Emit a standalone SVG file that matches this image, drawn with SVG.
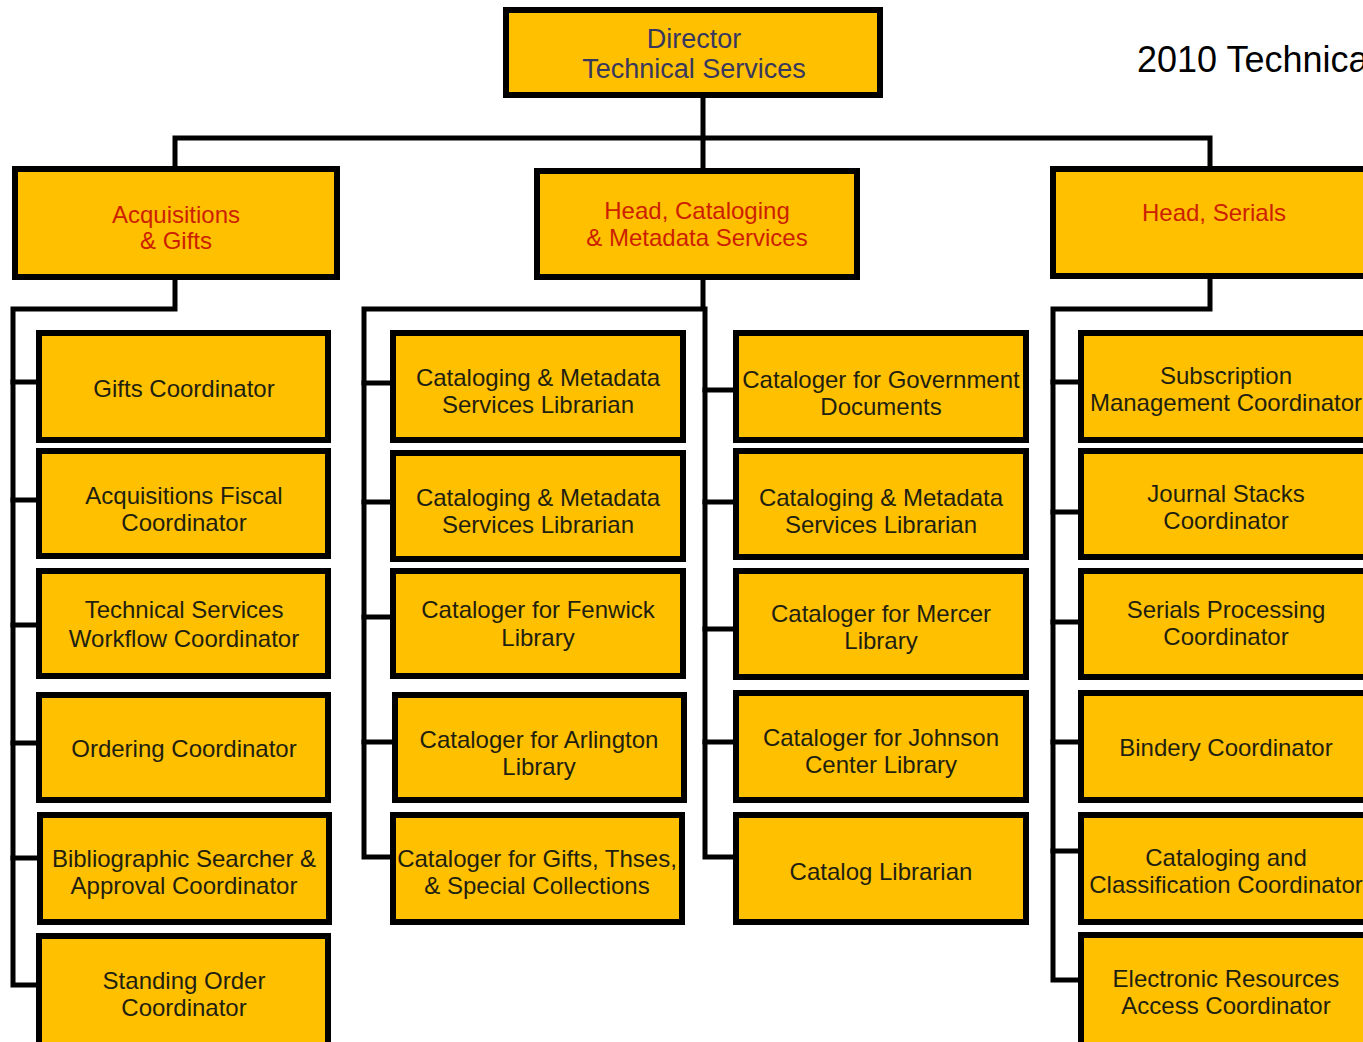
<svg xmlns="http://www.w3.org/2000/svg" width="1363" height="1042" viewBox="0 0 1363 1042">
  <style>
    .box { fill: #FFC000; stroke: #000; stroke-width: 6; }
    .lbl { font-family: "Liberation Sans", Arial, sans-serif; font-size: 24px; fill: #1f1f10; text-anchor: middle; }
    .head { fill: #cc1f00; }
    .top { font-size: 27px; fill: #38385e; }
    .title { font-family: "Liberation Sans", Arial, sans-serif; font-size: 36px; fill: #000; }
    .conn { fill: none; stroke: #000; stroke-width: 5; stroke-linejoin: miter; stroke-linecap: square; }
  </style>
  <rect width="1363" height="1042" fill="#fff"/>

  <text class="title" x="1137" y="72">2010 Technical</text>

  <!-- reporting lines -->
  <g id="connectors" class="conn">
    <path d="M703 98 V138 M175 166 V138 H1210 V166 M703 138 V168"/>
    <!-- Acquisitions branch -->
    <path d="M175 280 V309 H13 V985 H38"/>
    <path d="M13 382 H38 M13 500 H38 M13 625 H38 M13 743 H38 M13 858 H38"/>
    <!-- Cataloging branch -->
    <path d="M703 280 V309 H364 V857 H390"/>
    <path d="M364 383 H390 M364 502 H390 M364 617 H390 M364 742 H390"/>
    <path d="M705 309 V857 H735"/>
    <path d="M705 390 H735 M705 502 H735 M705 629 H735 M705 742 H735"/>
    <!-- Serials branch -->
    <path d="M1210 279 V309 H1053 V980 H1080"/>
    <path d="M1053 382 H1080 M1053 512 H1080 M1053 622 H1080 M1053 742 H1080 M1053 851 H1080"/>
  </g>

  <g id="director">
    <rect class="box" x="506" y="10" width="374" height="85"/>
    <text class="lbl top" x="694" y="48">Director</text>
    <text class="lbl top" x="694" y="78">Technical Services</text>
  </g>

  <g id="acquisitions">
    <rect class="box" x="15" y="169" width="322" height="108"/>
    <text class="lbl head" x="176" y="223">Acquisitions</text>
    <text class="lbl head" x="176" y="249">&amp; Gifts</text>
  </g>
  <g id="head-cataloging">
    <rect class="box" x="537" y="171" width="320" height="106"/>
    <text class="lbl head" x="697" y="219">Head, Cataloging</text>
    <text class="lbl head" x="697" y="246">&amp; Metadata Services</text>
  </g>
  <g id="head-serials">
    <rect class="box" x="1053" y="169" width="322" height="107"/>
    <text class="lbl head" x="1214" y="221">Head, Serials</text>
  </g>

  <!-- Acquisitions staff -->
  <g id="gifts-coordinator">
    <rect class="box" x="39" y="333" width="289" height="107"/>
    <text class="lbl" x="184" y="397">Gifts Coordinator</text>
  </g>
  <g id="acq-fiscal">
    <rect class="box" x="39" y="451" width="289" height="105"/>
    <text class="lbl" x="184" y="504">Acquisitions Fiscal</text>
    <text class="lbl" x="184" y="531">Coordinator</text>
  </g>
  <g id="ts-workflow">
    <rect class="box" x="39" y="571" width="289" height="105"/>
    <text class="lbl" x="184" y="618">Technical Services</text>
    <text class="lbl" x="184" y="647">Workflow Coordinator</text>
  </g>
  <g id="ordering">
    <rect class="box" x="39" y="695" width="289" height="105"/>
    <text class="lbl" x="184" y="757">Ordering Coordinator</text>
  </g>
  <g id="bib-searcher">
    <rect class="box" x="40" y="815" width="289" height="107"/>
    <text class="lbl" x="184" y="867">Bibliographic Searcher &amp;</text>
    <text class="lbl" x="184" y="894">Approval Coordinator</text>
  </g>
  <g id="standing-order">
    <rect class="box" x="39" y="936" width="289" height="120"/>
    <text class="lbl" x="184" y="989">Standing Order</text>
    <text class="lbl" x="184" y="1016">Coordinator</text>
  </g>

  <!-- Cataloging staff, first column -->
  <g id="cms-librarian-1">
    <rect class="box" x="393" y="333" width="290" height="107"/>
    <text class="lbl" x="538" y="386">Cataloging &amp; Metadata</text>
    <text class="lbl" x="538" y="413">Services Librarian</text>
  </g>
  <g id="cms-librarian-2">
    <rect class="box" x="393" y="453" width="290" height="106"/>
    <text class="lbl" x="538" y="506">Cataloging &amp; Metadata</text>
    <text class="lbl" x="538" y="533">Services Librarian</text>
  </g>
  <g id="fenwick">
    <rect class="box" x="393" y="571" width="290" height="105"/>
    <text class="lbl" x="538" y="618">Cataloger for Fenwick</text>
    <text class="lbl" x="538" y="646">Library</text>
  </g>
  <g id="arlington">
    <rect class="box" x="395" y="695" width="289" height="105"/>
    <text class="lbl" x="539" y="748">Cataloger for Arlington</text>
    <text class="lbl" x="539" y="775">Library</text>
  </g>
  <g id="gifts-theses">
    <rect class="box" x="393" y="815" width="289" height="107"/>
    <text class="lbl" x="537" y="867">Cataloger for Gifts, Thses,</text>
    <text class="lbl" x="537" y="894">&amp; Special Collections</text>
  </g>

  <!-- Cataloging staff, second column -->
  <g id="gov-docs">
    <rect class="box" x="736" y="333" width="290" height="107"/>
    <text class="lbl" x="881" y="388">Cataloger for Government</text>
    <text class="lbl" x="881" y="415">Documents</text>
  </g>
  <g id="cms-librarian-3">
    <rect class="box" x="736" y="451" width="290" height="106"/>
    <text class="lbl" x="881" y="506">Cataloging &amp; Metadata</text>
    <text class="lbl" x="881" y="533">Services Librarian</text>
  </g>
  <g id="mercer">
    <rect class="box" x="736" y="571" width="290" height="106"/>
    <text class="lbl" x="881" y="622">Cataloger for Mercer</text>
    <text class="lbl" x="881" y="649">Library</text>
  </g>
  <g id="johnson">
    <rect class="box" x="736" y="693" width="290" height="107"/>
    <text class="lbl" x="881" y="746">Cataloger for Johnson</text>
    <text class="lbl" x="881" y="773">Center Library</text>
  </g>
  <g id="catalog-librarian">
    <rect class="box" x="736" y="815" width="290" height="107"/>
    <text class="lbl" x="881" y="880">Catalog Librarian</text>
  </g>

  <!-- Serials staff -->
  <g id="subscription">
    <rect class="box" x="1081" y="333" width="294" height="107"/>
    <text class="lbl" x="1226" y="384">Subscription</text>
    <text class="lbl" x="1226" y="411">Management Coordinator</text>
  </g>
  <g id="journal-stacks">
    <rect class="box" x="1081" y="451" width="294" height="106"/>
    <text class="lbl" x="1226" y="502">Journal Stacks</text>
    <text class="lbl" x="1226" y="529">Coordinator</text>
  </g>
  <g id="serials-processing">
    <rect class="box" x="1081" y="571" width="294" height="106"/>
    <text class="lbl" x="1226" y="618">Serials Processing</text>
    <text class="lbl" x="1226" y="645">Coordinator</text>
  </g>
  <g id="bindery">
    <rect class="box" x="1081" y="693" width="294" height="107"/>
    <text class="lbl" x="1226" y="756">Bindery Coordinator</text>
  </g>
  <g id="cat-class">
    <rect class="box" x="1081" y="815" width="294" height="107"/>
    <text class="lbl" x="1226" y="866">Cataloging and</text>
    <text class="lbl" x="1226" y="893">Classification Coordinator</text>
  </g>
  <g id="e-resources">
    <rect class="box" x="1081" y="935" width="294" height="120"/>
    <text class="lbl" x="1226" y="987">Electronic Resources</text>
    <text class="lbl" x="1226" y="1014">Access Coordinator</text>
  </g>
</svg>
